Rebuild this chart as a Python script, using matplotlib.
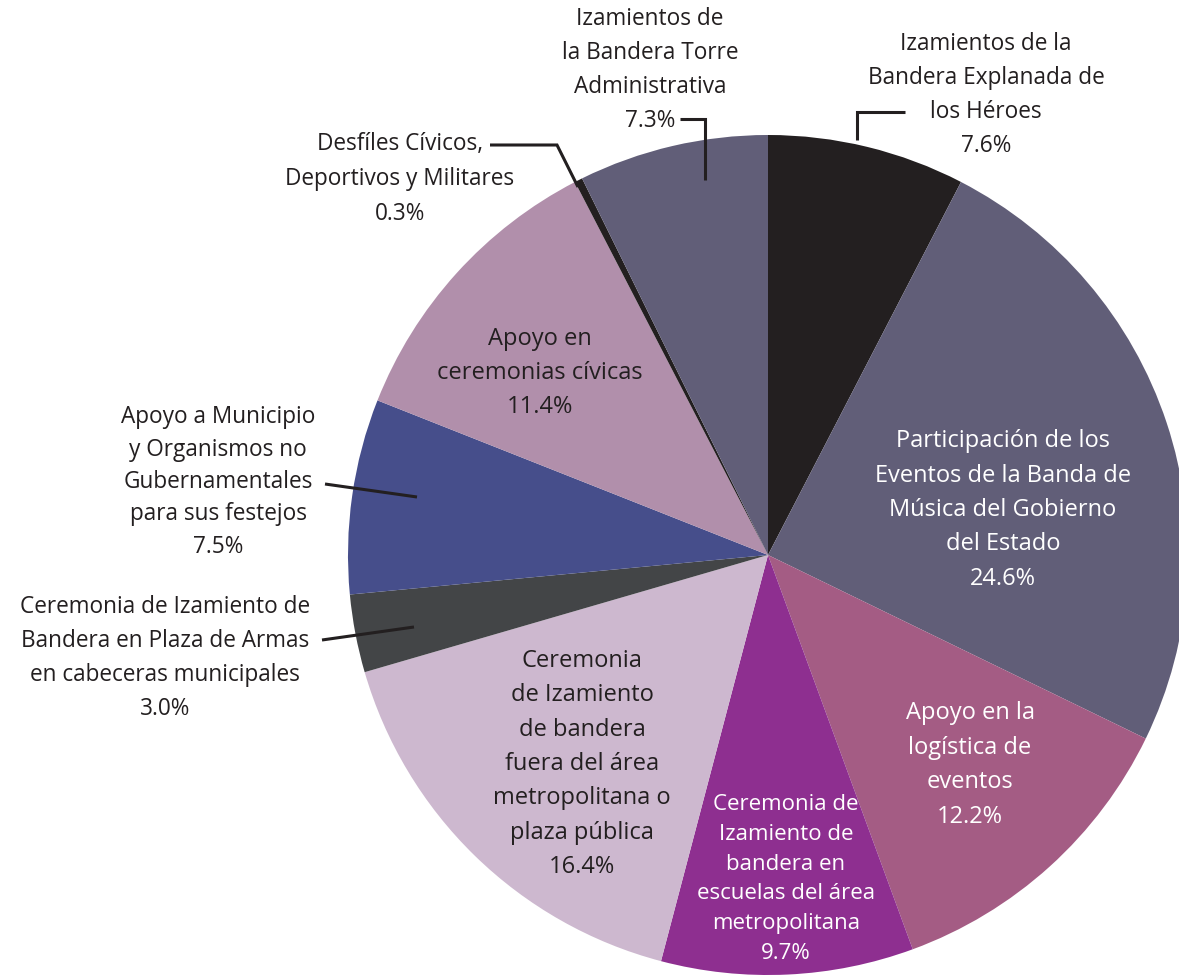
import matplotlib
matplotlib.use("Agg")
import matplotlib.pyplot as plt

plt.rcParams['font.family'] = ['Open Sans', 'DejaVu Sans']

categories = [
    "Izamientos de la\nBandera Explanada de\nlos Héroes",
    "Participación de los\nEventos de la Banda de\nMúsica del Gobierno\ndel Estado",
    "Apoyo en la\nlogística de\neventos",
    "Ceremonia de\nIzamiento de\nbandera en\nescuelas del área\nmetropolitana",
    "Ceremonia\nde Izamiento\nde bandera\nfuera del área\nmetropolitana o\nplaza pública",
    "Ceremonia de Izamiento de\nBandera en Plaza de Armas\nen cabeceras municipales",
    "Apoyo a Municipio\ny Organismos no\nGubernamentales\npara sus festejos",
    "Apoyo en\nceremonias cívicas",
    "Desfíles Cívicos,\nDeportivos y Militares",
    "Izamientos de\nla Bandera Torre\nAdministrativa",
]
values = [7.6, 24.6, 12.2, 9.7, 16.4, 3.0, 7.5, 11.4, 0.3, 7.3]
colors = ["#231f20", "#615e78", "#a45c84", "#8e2f90", "#cdb8cf",
          "#434547", "#464e8b", "#b18fab", "#231f20", "#615e78"]

W, H = 1179, 975
fig = plt.figure(figsize=(W / 100, H / 100), dpi=100)
ax = fig.add_axes([0, 0, 1, 1])

cx, cy, R = 768, H - 555, 420
ax.pie(values, colors=colors, startangle=90, counterclock=False,
       center=(cx, cy), radius=R, frame=True,
       wedgeprops=dict(linewidth=0))
ax.set_xlim(0, W)
ax.set_ylim(0, H)
ax.set_aspect('equal')
ax.axis('off')

def Y(py):
    return H - py

# label placement: (x_px, y_center_px, color, fontsize, linespacing)
places = [
    (986, 95, "#231f20", 16.3, 1.55),
    (1003, 510, "white", 17.0, 1.58),
    (970, 765, "white", 17.0, 1.58),
    (786, 879, "white", 16.0, 1.56),
    (582, 764, "#231f20", 17.0, 1.58),
    (165, 658, "#231f20", 16.3, 1.54),
    (218, 482, "#231f20", 16.3, 1.47),
    (540, 373, "#231f20", 17.0, 1.58),
    (400, 179, "#231f20", 16.3, 1.6),
    (650, 70, "#231f20", 16.3, 1.55),
]
for cat, val, (x, y, c, fs, ls) in zip(categories, values, places):
    ax.text(x, Y(y), f"{cat}\n{val:.1f}%", ha='center', va='center',
            color=c, fontsize=fs, linespacing=ls)

lc = "#231f20"
lw = 2.2
leaders = [
    [(680, 119), (705, 119), (705, 180)],
    [(857, 140), (857, 112), (905, 112)],
    [(490, 145), (557, 145), (578, 187)],
    [(325, 484), (417, 497)],
    [(322, 640), (414, 627)],
]
for pts in leaders:
    ax.plot([p[0] for p in pts], [Y(p[1]) for p in pts], color=lc, lw=lw,
            solid_capstyle='butt', solid_joinstyle='miter')

fig.savefig("out.png", dpi=100)
